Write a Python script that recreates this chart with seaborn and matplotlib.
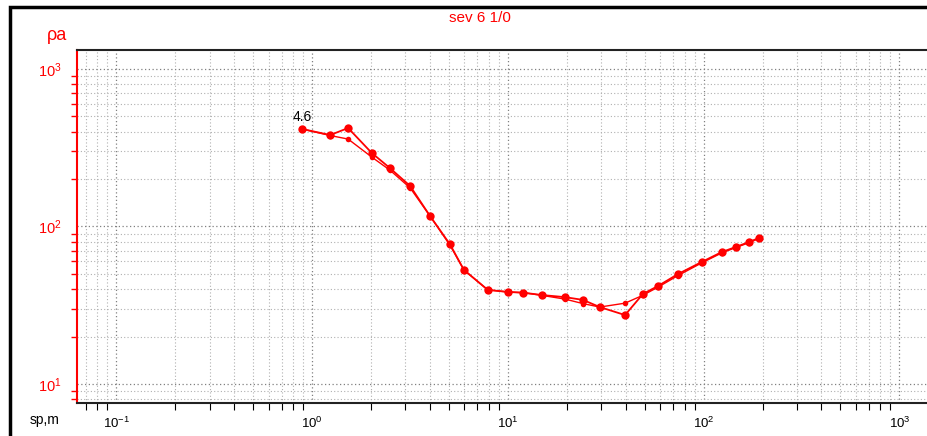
import numpy as np
import pandas as pd
import matplotlib
matplotlib.use("Agg")
import matplotlib.pyplot as plt
from matplotlib.ticker import LogLocator, FixedLocator, NullFormatter
from matplotlib.patches import Rectangle
import seaborn as sns

# Sounding curve: half-spacing AB/2 (m) vs apparent resistivity (Ohm*m)
ab2 = [0.89, 1.24, 1.53, 2.02, 2.5, 3.17, 4.0, 5.07, 5.97, 7.9, 10.0, 12.0,
       15.0, 19.6, 24.2, 29.5, 39.7, 49.0, 58.5, 74.0, 98.0, 124.0, 146.0,
       171.0, 192.0]
rho_forward = [416, 381, 422, 293, 235, 181, 117, 77, 53, 39.6, 38.4, 38.0,
               36.7, 35.6, 34.2, 30.8, 27.4, 37.3, 41.9, 49.9, 59.6, 68.9,
               74.1, 79.8, 84.6]
rho_repeat = [416, 378, 359, 276, 228, 176, 117, 76, 53, 39.6, 38.4, 38.0,
              36.5, 34.6, 32.4, 30.8, 32.6, 36.6, 41.2, 48.8, 58.8, 68.0,
              73.5, 79.0, 84.0]
fit_label = "4.6"
title_text = "sev 6 1/0"
x_major = [0.1, 1, 10, 100, 1000]
x_major_labels = ["$10^{-1}$", "$10^{0}$", "$10^{1}$", "$10^{2}$", "$10^{3}$"]
y_major = [10, 100, 1000]
y_major_labels = ["$10^{1}$", "$10^{2}$", "$10^{3}$"]

df_f = pd.DataFrame({"ab2": ab2, "rho": rho_forward})
df_r = pd.DataFrame({"ab2": ab2, "rho": rho_repeat})

sns.set_style("white")
plt.rcParams["font.family"] = ["Liberation Sans", "DejaVu Sans"]
plt.rcParams["mathtext.fontset"] = "custom"
plt.rcParams["mathtext.rm"] = "Liberation Sans"
plt.rcParams["mathtext.it"] = "Liberation Sans"

W, H = 928, 436
fig = plt.figure(figsize=(W / 100, H / 100), dpi=100)
ax = fig.add_axes([77 / W, (H - 403) / H, (929 - 77) / W, (403 - 50) / H])

red = "#ff0000"

# repeat measurement (thinner) then main curve
sns.lineplot(data=df_r, x="ab2", y="rho", ax=ax, color=red, lw=1.0,
             marker="o", markersize=4, markeredgewidth=0, sort=False,
             estimator=None)
sns.lineplot(data=df_f, x="ab2", y="rho", ax=ax, color=red, lw=1.3,
             marker="o", markersize=6, markeredgewidth=0, sort=False,
             estimator=None)

ax.set_xscale("log")
ax.set_yscale("log")
ax.set_xlim(10 ** -1.2, 10 ** (617 / 195.8))
ax.set_ylim(10 ** (1 - 19 / 157.5), 10 ** (1 + 334 / 157.5))

# ticks
ax.xaxis.set_major_locator(FixedLocator(x_major))
ax.set_xticklabels(x_major_labels)
ax.xaxis.set_minor_locator(LogLocator(base=10, subs=np.arange(2, 10), numticks=20))
ax.xaxis.set_minor_formatter(NullFormatter())
ax.yaxis.set_major_locator(FixedLocator(y_major))
ax.set_yticklabels(y_major_labels)
ax.yaxis.set_minor_locator(LogLocator(base=10, subs=np.arange(2, 10), numticks=20))
ax.yaxis.set_minor_formatter(NullFormatter())

ax.tick_params(axis="x", which="major", direction="out", length=8, width=1,
               color="black", labelsize=9.5, labelcolor="black", pad=1)
ax.tick_params(axis="x", which="minor", direction="out", length=5, width=0.8,
               color="black", bottom=True)
ax.tick_params(axis="y", which="major", direction="out", length=9, width=1.2,
               color=red, labelsize=10.5, labelcolor=red, pad=2)
ax.tick_params(axis="y", which="minor", direction="out", length=4, width=1.0,
               color=red, left=True)

# dotted grid
ax.grid(True, which="major", linestyle=(0, (1, 2)), color="#808080", lw=0.9)
ax.grid(True, which="minor", linestyle=(0, (1, 2)), color="#b0b0b0", lw=0.8)
ax.set_axisbelow(True)

for s in ("top", "bottom"):
    ax.spines[s].set_color("#222222")
    ax.spines[s].set_linewidth(1.5)
ax.spines["left"].set_color(red)
ax.spines["left"].set_linewidth(1.5)
ax.spines["right"].set_visible(False)

ax.set_xlabel("")
ax.set_ylabel("")

ax.annotate(fit_label, xy=(ab2[0], rho_forward[0]), xytext=(-7, 6),
            textcoords="offset points", fontsize=10, color="black")

fig.text(480 / W, 1 - 18 / H, title_text, color=red, fontsize=11,
         ha="center", va="center")
fig.text(57 / W, 1 - 36 / H, "ρa", color=red, fontsize=13,
         ha="center", va="center")
fig.text(45 / W, 1 - 420 / H, "sp,m", color="black", fontsize=10,
         ha="center", va="center")

# outer frame
fig.patches.append(Rectangle((10 / W, -0.1), 1.2, (H - 7) / H + 0.1,
                             transform=fig.transFigure, fill=False,
                             edgecolor="black", lw=2.5))

fig.savefig("out.png", dpi=100)
